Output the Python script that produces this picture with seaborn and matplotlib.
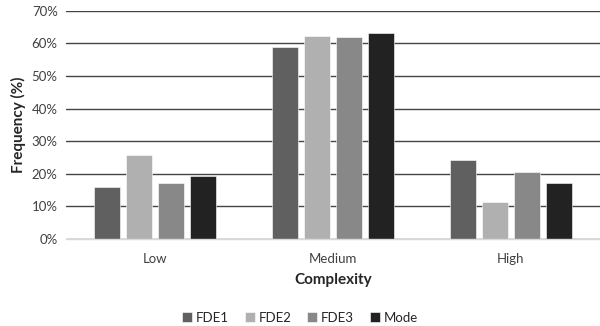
import matplotlib
matplotlib.use("Agg")
import matplotlib.pyplot as plt
import seaborn as sns
import pandas as pd
from matplotlib.ticker import PercentFormatter

categories = ["Low", "Medium", "High"]
series = ["FDE1", "FDE2", "FDE3", "Mode"]
fde1 = [15.8, 59.0, 24.3]
fde2 = [25.8, 62.4, 11.3]
fde3 = [17.2, 61.8, 20.6]
mode = [19.3, 63.2, 17.3]
colors = ["#606060", "#b0b0b0", "#888888", "#222222"]

rows = []
for name, vals in zip(series, [fde1, fde2, fde3, mode]):
    for cat, v in zip(categories, vals):
        rows.append({"Complexity": cat, "Series": name, "Frequency": v})
df = pd.DataFrame(rows)

sns.set_style("white")
plt.rcParams["font.family"] = ["Lato", "DejaVu Sans"]

fig = plt.figure(figsize=(6.0, 3.26), dpi=100)
ax = fig.add_axes([0.11, 0.267, 0.89, 0.70])

sns.barplot(data=df, x="Complexity", y="Frequency", hue="Series",
            order=categories, hue_order=series, palette=colors,
            width=0.72, gap=0.18, edgecolor="white", linewidth=0.4,
            ax=ax, legend=True)

ax.set_ylim(0, 70)
ax.set_xlim(-0.5, 2.5)
ax.set_yticks(range(0, 71, 10))
ax.yaxis.set_major_formatter(PercentFormatter(decimals=0))
ax.grid(axis="y", color="#444444", linewidth=1.0)
ax.set_axisbelow(True)
for s in ["left", "right", "top"]:
    ax.spines[s].set_visible(False)
ax.spines["bottom"].set_color("#d9d9d9")
ax.spines["bottom"].set_linewidth(1.0)
ax.tick_params(axis="both", length=0, labelsize=9.5, colors="#404040", pad=6)
ax.tick_params(axis="x", pad=10)

ax.set_xlabel("Complexity", fontsize=11, fontweight="bold", labelpad=6)
ax.set_ylabel("Frequency (%)", fontsize=11, fontweight="bold", labelpad=4)

handles, labels = ax.get_legend_handles_labels()
ax.legend_.remove()
fig.legend(handles, labels, loc="center", bbox_to_anchor=(0.5, 0.025),
           ncol=4, frameon=False, fontsize=9.5, handlelength=0.75, handleheight=0.75,
           handletextpad=0.3, columnspacing=1.2)

fig.savefig("out.png", dpi=100)
